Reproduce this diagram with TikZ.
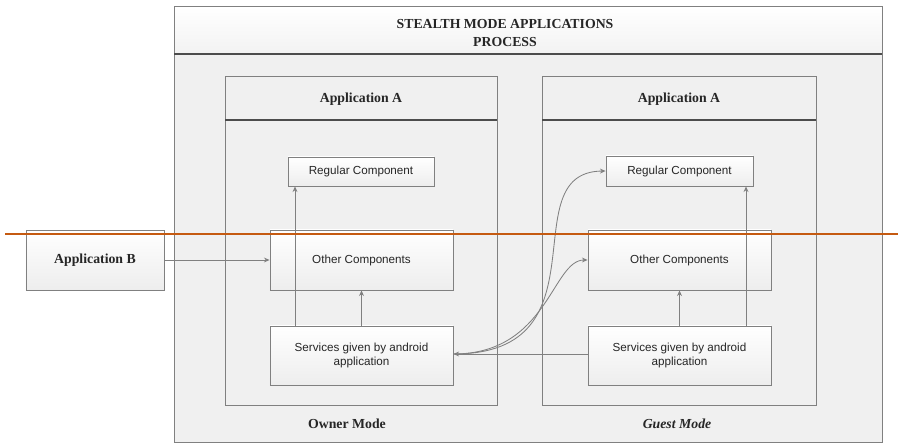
\documentclass[tikz,border=0pt]{standalone}
\usepackage{fontspec}
\setmainfont{Liberation Serif}
\newfontfamily\compfont{Liberation Sans}
\usetikzlibrary{arrows.meta}
\definecolor{framegray}{RGB}{128,128,128}
\definecolor{cutline}{RGB}{197,90,17}
\begin{document}
\begin{tikzpicture}[x=0.025cm,y=-0.025cm,
	comp/.style={draw=framegray,line width=0.6pt,top color=white,bottom color=black!7,font=\compfont\fontsize{8.3}{10}\selectfont,text=black!85,align=center,inner sep=0pt},
	appbox/.style={comp,font=\bfseries\fontsize{9.8}{11}\selectfont},
	head/.style={font=\bfseries\fontsize{9.8}{12.5}\selectfont,text=black!85,align=center},
	link/.style={draw=framegray,line width=0.6pt,-{Stealth[length=4pt,width=3.5pt]}}]
	\useasboundingbox (0,0) rectangle (898,444);
	% frames
	\filldraw[draw=framegray,fill=black!6,line width=0.6pt] (174,6) rectangle (882,442);
	\shade[top color=white,bottom color=black!5] (174.5,6.5) rectangle (881.5,54);
	\draw[framegray,line width=0.6pt] (174,6) rectangle (882,442);
	\draw[black!70,line width=0.8pt] (174,54) -- (882,54);
	\node[head] (title) at (505,33) {STEALTH MODE APPLICATIONS\\PROCESS};
	\foreach \xl/\xr in {225/497,542/816}{
		\draw[framegray,line width=0.6pt] (\xl,76) rectangle (\xr,405);
		\draw[black!70,line width=0.8pt] (\xl,120) -- (\xr,120);
	}
	\node[head] (ownapp) at (361,99) {Application A};
	\node[head] (guestapp) at (679,99) {Application A};
	\node[head] (owner) at (347,424) {Owner Mode};
	\node[head] (guest) at (677,424) {\itshape Guest Mode};
	% components
	\node[comp,minimum width=3.65cm,minimum height=0.725cm] (lr) at (361,171.5) {Regular Component};
	\node[comp,minimum width=4.575cm,minimum height=1.5cm] (lo) at (361.5,260) {Other Components};
	\node[comp,minimum width=4.575cm,minimum height=1.475cm] (ls) at (361.5,355.5) {Services given by android\\application};
	\node[comp,minimum width=3.675cm,minimum height=0.75cm] (rr) at (679.5,171) {Regular Component};
	\node[comp,minimum width=4.575cm,minimum height=1.5cm] (ro) at (679.5,260) {Other Components};
	\node[comp,minimum width=4.575cm,minimum height=1.475cm] (rs) at (679.5,355.5) {Services given by android\\application};
	\node[appbox,minimum width=3.45cm,minimum height=1.5cm] (appb) at (95,260) {Application B};
	% connectors
	\draw[link] (appb) -- (lo);
	\draw[link] (ls.north -| 295,0) -- (lr.south -| 295,0);
	\draw[link] (ls.north -| lo.south) -- (lo.south);
	\draw[link] (rs.north -| ro.south) -- (ro.south);
	\draw[link] (rs.north -| 746,0) -- (rr.south -| 746,0);
	\draw[link] (rs.west |- 0,354) -- (ls.east |- 0,354);
	\draw[link] (ls.east |- 0,354) .. controls (610,354) and (510,172) .. (rr.west);
	\draw[link] (ls.east |- 0,354) .. controls (548,354) and (552,260) .. (ro.west);
	% cut
	\coordinate (cutl) at (5,234);
	\coordinate (cutr) at (898,234);
	\draw[cutline,line width=1.3pt] (cutl) -- (cutr);
\end{tikzpicture}
\end{document}
